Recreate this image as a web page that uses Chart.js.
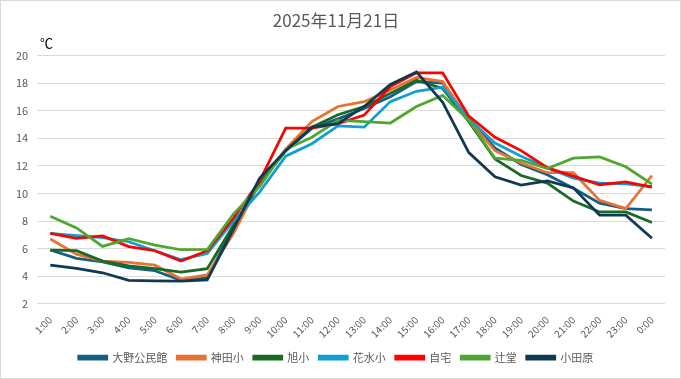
<!DOCTYPE html>
<html>
<head>
<meta charset="utf-8">
<script src="https://cdn.jsdelivr.net/npm/chart.js@4.4.1/dist/chart.umd.min.js"></script>
<style>
  html, body { margin: 0; padding: 0; background: #ffffff; }
  #wrap { width: 679px; height: 377px; border: 1px solid #d9d9d9; position: relative; }
  canvas { display: block; }
</style>
</head>
<body>
<div id="wrap"><canvas id="c" width="679" height="377"></canvas></div>
<script>
const categories = ["1:00","2:00","3:00","4:00","5:00","6:00","7:00","8:00","9:00","10:00","11:00","12:00","13:00","14:00","15:00","16:00","17:00","18:00","19:00","20:00","21:00","22:00","23:00","0:00"];
const seriesNames = ["大野公民館","神田小","旭小","花水小","自宅","辻堂","小田原"];
const oono   = [5.9, 5.3, 5.04, 4.6, 4.4, 3.7, 3.9, 7.6, 10.75, 13.1, 14.7, 15.4, 16.15, 17.0, 18.1, 18.0, 15.4, 13.3, 12.1, 11.35, 10.37, 9.3, 8.9, 8.8];
const kanda  = [6.7, 5.6, 5.1, 5.0, 4.8, 3.8, 4.1, 7.1, 10.75, 13.2, 15.2, 16.3, 16.65, 17.5, 18.4, 18.1, 15.3, 13.1, 12.2, 11.5, 11.5, 9.5, 8.9, 11.3];
const asahi  = [5.9, 5.85, 5.1, 4.75, 4.55, 4.3, 4.55, 7.7, 10.7, 13.1, 14.8, 15.7, 16.3, 17.25, 18.2, 17.6, 15.2, 12.5, 11.3, 10.75, 9.45, 8.66, 8.66, 7.9];
const hanami = [7.1, 6.95, 6.8, 6.5, 5.85, 5.2, 5.65, 8.0, 10.1, 12.7, 13.6, 14.9, 14.8, 16.65, 17.4, 17.7, 15.4, 13.65, 12.7, 11.86, 11.1, 10.75, 10.7, 10.5];
const jitaku = [7.1, 6.75, 6.92, 6.15, 5.85, 5.1, 5.85, 8.2, 10.9, 14.73, 14.73, 15.05, 15.67, 17.75, 18.74, 18.74, 15.6, 14.07, 13.1, 11.86, 11.25, 10.63, 10.83, 10.46];
const tsujido= [8.34, 7.5, 6.16, 6.72, 6.26, 5.92, 5.94, 8.5, 10.5, 13.2, 14.07, 15.3, 15.2, 15.1, 16.3, 17.1, 15.3, 12.55, 12.4, 11.8, 12.55, 12.64, 11.93, 10.68];
const odawara= [4.8, 4.57, 4.25, 3.7, 3.67, 3.64, 3.74, 7.4, 11.1, 13.1, 14.8, 15.05, 16.3, 17.9, 18.8, 16.6, 12.96, 11.2, 10.6, 10.9, 10.4, 8.43, 8.43, 6.75];
const yTicks = [2, 4, 6, 8, 10, 12, 14, 16, 18, 20];
const titleText = "2025年11月21日";
const unitText = "℃";

const colors = ["#156082", "#E97132", "#196B24", "#0F9ED5", "#FF0000", "#4EA72E", "#0E3A52"];
const values = [oono, kanda, asahi, hanami, jitaku, tsujido, odawara];

const datasets = values.map((v, i) => ({
  label: seriesNames[i],
  data: v,
  borderColor: colors[i],
  backgroundColor: colors[i],
  borderWidth: 2.75,
  pointRadius: 0,
  pointHoverRadius: 0,
  tension: 0,
  fill: false,
  order: values.length - 1 - i
}));

const FONT = "'Noto Sans CJK JP', 'Noto Sans', sans-serif";

const unitLabel = {
  id: 'unitLabel',
  afterDraw(chart) {
    const ctx = chart.ctx;
    ctx.save();
    ctx.font = "13px " + FONT;
    ctx.fillStyle = "#000000";
    ctx.textAlign = "left";
    ctx.textBaseline = "middle";
    ctx.fillText(unitText, 39, 42);
    ctx.restore();
  }
};

new Chart(document.getElementById('c'), {
  type: 'line',
  data: { labels: categories, datasets },
  options: {
    responsive: false,
    animation: false,
    layout: { padding: { left: 6, right: 15, top: 8, bottom: 5 } },
    plugins: {
      title: {
        display: true,
        text: titleText,
        color: "#595959",
        font: { family: FONT, size: 17, weight: 'normal' },
        padding: { top: 1, bottom: 25 }
      },
      legend: {
        position: 'bottom',
        labels: {
          color: "#595959",
          font: { family: FONT, size: 11 },
          boxWidth: 28,
          boxHeight: 3,
          padding: 10,
          sort: (a, b) => a.datasetIndex - b.datasetIndex
        }
      },
      tooltip: { enabled: false }
    },
    scales: {
      x: {
        offset: true,
        grid: { display: false },
        border: { display: false },
        ticks: {
          color: "#595959",
          font: { family: FONT, size: 10 },
          autoSkip: false,
          maxRotation: 45,
          minRotation: 45,
          padding: 2
        }
      },
      y: {
        min: 2,
        max: 20,
        afterBuildTicks(axis) { axis.ticks = yTicks.map(v => ({ value: v })); },
        grid: { color: "#d9d9d9", lineWidth: 1, drawTicks: false },
        border: { display: false },
        ticks: {
          color: "#595959",
          font: { family: FONT, size: 11 },
          padding: 9
        }
      }
    }
  },
  plugins: [unitLabel]
});
</script>
</body>
</html>
